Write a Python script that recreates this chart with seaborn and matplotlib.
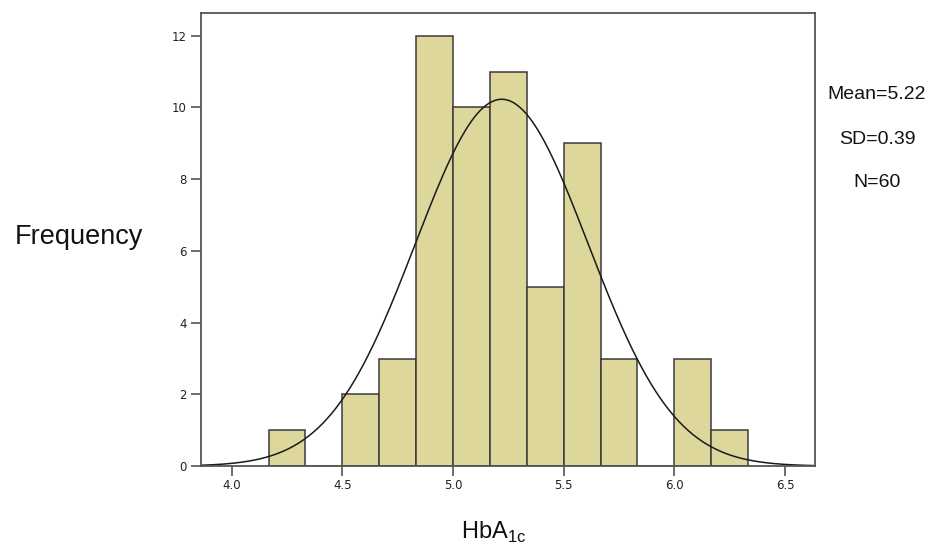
import numpy as np
import pandas as pd
import matplotlib
matplotlib.use("Agg")
import matplotlib.pyplot as plt
import seaborn as sns

# HbA1c histogram, 60 subjects, bins of width 1/6
bin_edges = [25/6, 26/6, 27/6, 28/6, 29/6, 30/6, 31/6, 32/6, 33/6, 34/6, 35/6, 36/6, 37/6, 38/6]
counts = [1, 0, 2, 3, 12, 10, 11, 5, 9, 3, 0, 3, 1]
mean_val = 5.22
sd_val = 0.39
n_val = 60
x_ticks = [4.0, 4.5, 5.0, 5.5, 6.0, 6.5]
x_tick_labels = ["4.0", "4.5", "5.0", "5.5", "6.0", "6.5"]
y_ticks = [0, 2, 4, 6, 8, 10, 12]

sns.set_style("white")
plt.rcParams["font.family"] = ["Liberation Sans", "DejaVu Sans"]

edges = np.array(bin_edges)
df = pd.DataFrame({"hba1c": (edges[:-1] + edges[1:]) / 2, "count": counts})

fig = plt.figure(figsize=(9.38, 5.49), dpi=100)
ax = fig.add_axes([0.214, 0.151, 0.655, 0.825])

sns.histplot(data=df, x="hba1c", weights="count", bins=list(bin_edges), ax=ax,
             color="#ddd79c", edgecolor="#3a3a3a", linewidth=1.1, alpha=1.0)

# fitted normal curve scaled to counts
bw = edges[1] - edges[0]
xs = np.linspace(3.86, 6.64, 400)
ys = n_val * bw / (sd_val * np.sqrt(2 * np.pi)) * np.exp(-0.5 * ((xs - mean_val) / sd_val) ** 2)
ax.plot(xs, ys, color="#1a1a1a", linewidth=1.1)

ax.set_xlim(3.86, 6.636)
ax.set_ylim(0, 12.63)
ax.set_xticks(x_ticks)
ax.set_xticklabels(x_tick_labels)
ax.set_yticks(y_ticks)
ax.set_xlabel("")
ax.set_ylabel("")
ax.tick_params(axis="both", direction="out", length=7, width=1.2, color="#555555",
               labelsize=8.5, labelcolor="#222222")
ax.tick_params(axis="x", bottom=True, pad=2)
ax.tick_params(axis="y", left=True, pad=3)
for lab in ax.get_xticklabels() + ax.get_yticklabels():
    lab.set_fontfamily("DejaVu Sans")
for s in ax.spines.values():
    s.set_color("#555555")
    s.set_linewidth(1.3)

fig.text(0.084, 0.569, "Frequency", fontsize=19.5, ha="center", va="center", color="#111111")
fig.text(0.526, 0.018, r"HbA$_{\mathregular{1c}}$", fontsize=17, ha="center", va="baseline", color="#111111")
fig.text(0.935, 0.827, f"Mean={mean_val:.2f}", fontsize=14, ha="center", va="center", color="#111111")
fig.text(0.935, 0.745, f"SD={sd_val:.2f}", fontsize=14, ha="center", va="center", color="#111111")
fig.text(0.935, 0.668, f"N={n_val}", fontsize=14, ha="center", va="center", color="#111111")

fig.savefig("out.png", dpi=100)
